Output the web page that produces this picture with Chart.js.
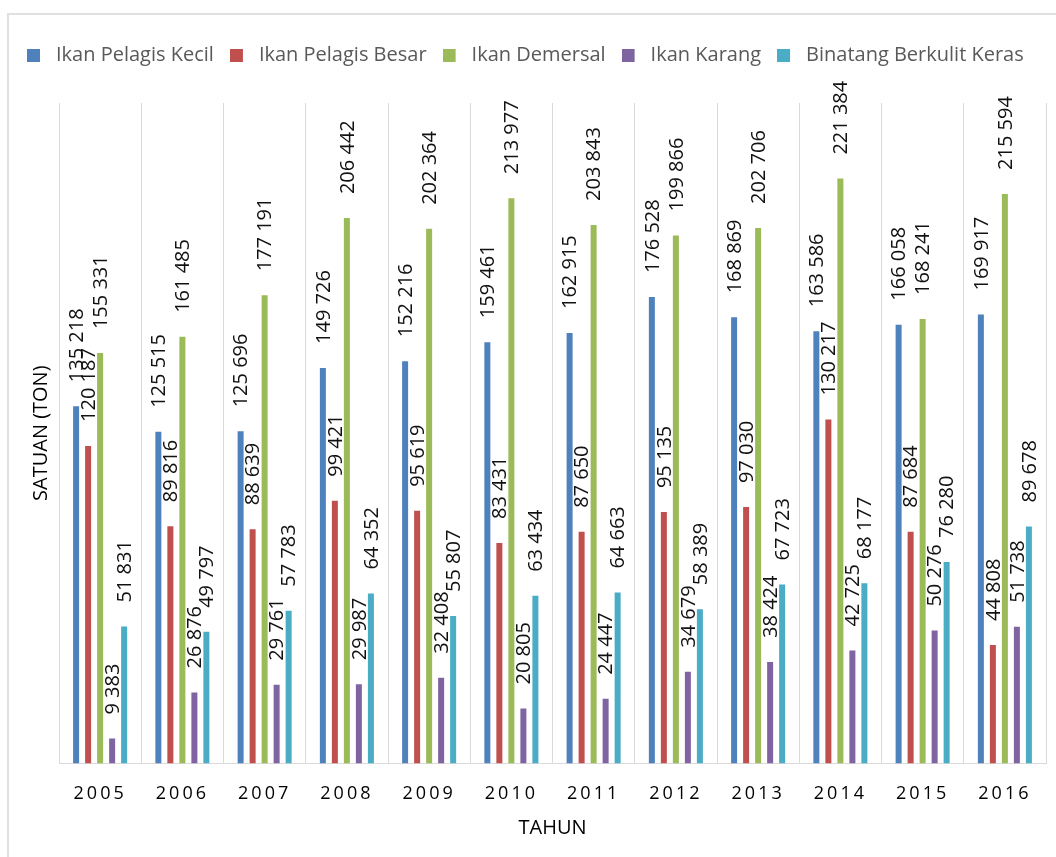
<!DOCTYPE html>
<html>
<head>
<meta charset="utf-8">
<script src="https://cdn.jsdelivr.net/npm/chart.js@4/dist/chart.umd.min.js"></script>
<style>
  html, body { margin: 0; padding: 0; background: #fff; overflow: hidden; }
  #frame { position: absolute; left: 7px; top: 13px; width: 1200px; height: 900px; border: 2px solid #e0e0e0; }
  #box { position: absolute; left: 0; top: 0; width: 1100px; height: 843px; }
</style>
</head>
<body>
<div id="frame"><div id="box"><canvas id="myChart"></canvas></div></div>
<script>
// produksi per tahun (ton)
const tahun = ['2005', '2006', '2007', '2008', '2009', '2010', '2011', '2012', '2013', '2014', '2015', '2016'];
const pelagisKecil = [135218, 125515, 125696, 149726, 152216, 159461, 162915, 176528, 168869, 163586, 166058, 169917];
const pelagisBesar = [120187, 89816, 88639, 99421, 95619, 83431, 87650, 95135, 97030, 130217, 87684, 44808];
const demersal = [155331, 161485, 177191, 206442, 202364, 213977, 203843, 199866, 202706, 221384, 168241, 215594];
const karang = [9383, 26876, 29761, 29987, 32408, 20805, 24447, 34679, 38424, 42725, 50276, 51738];
const berkulitKeras = [51831, 49797, 57783, 64352, 55807, 63434, 64663, 58389, 67723, 68177, 76280, 89678];
const yMax = 250000;

const FONT = '"Open Sans", "Noto Sans", sans-serif';

function formatTon(v) {
    return String(v).replace(/\B(?=(\d{3})+(?!\d))/g, ' ');
}

// small square for the legend, drawn on the left of a wider canvas so the text sits further away
function legendSquare(color) {
    let c = document.createElement('canvas');
    c.width = 19;
    c.height = 13;
    let g = c.getContext('2d');
    g.fillStyle = color;
    g.fillRect(0, 0, 13, 13);
    return c;
}

// value labels, rotated, above each bar
const barLabels = {
    id: 'barLabels',
    afterDatasetsDraw(chart) {
        const ctx = chart.ctx;
        ctx.save();
        ctx.font = '20px ' + FONT;
        ctx.fillStyle = '#111';
        ctx.textAlign = 'left';
        ctx.textBaseline = 'middle';
        chart.data.datasets.forEach((ds, i) => {
            chart.getDatasetMeta(i).data.forEach((bar, j) => {
                ctx.save();
                ctx.translate(bar.x, bar.y - 24);
                ctx.rotate(-Math.PI / 2);
                ctx.fillText(formatTon(ds.data[j]), 0, 1);
                ctx.restore();
            });
        });
        ctx.restore();
    }
};

// legend on one row running past the plot (it is cut at the page edge),
// some room under it, and year labels a bit spaced out
const tweaks = {
    id: 'tweaks',
    beforeLayout(chart) {
        const legend = chart.legend;
        if (legend && !legend._patched) {
            const fit = legend.fit;
            legend.fit = function () {
                this.maxWidth = 3000;
                fit.call(this);
                this.height += 28;
            };
            legend._patched = true;
        }
    },
    beforeDraw(chart) {
        const legend = chart.legend;
        if (legend) {
            legend.left = 2;
            legend.right = 3000;
        }
        const xs = chart.scales.x;
        if (xs && !xs._patched) {
            const drawLabels = xs.drawLabels;
            xs.drawLabels = function (area) {
                this.ctx.save();
                this.ctx.letterSpacing = '3px';
                drawLabels.call(this, area);
                this.ctx.restore();
            };
            xs._patched = true;
        }
    }
};

const colors = ['#4F81BD', '#C0504D', '#9BBB59', '#8064A2', '#4BACC6'];

let ctx = document.getElementById('myChart').getContext('2d');
const data = {
    labels: tahun,
    datasets: [
        { label: 'Ikan Pelagis Kecil', data: pelagisKecil, backgroundColor: colors[0] },
        { label: 'Ikan Pelagis Besar', data: pelagisBesar, backgroundColor: colors[1] },
        { label: 'Ikan Demersal', data: demersal, backgroundColor: colors[2] },
        { label: 'Ikan Karang', data: karang, backgroundColor: colors[3] },
        { label: 'Binatang Berkulit Keras', data: berkulitKeras, backgroundColor: colors[4] }
    ]
};
const config = {
    type: 'bar',
    data: data,
    plugins: [barLabels, tweaks],
    options: {
        responsive: true,
        maintainAspectRatio: false,
        animation: false,
        categoryPercentage: 0.73,
        barPercentage: 0.5,
        layout: { padding: { top: 14, left: 20, right: 63, bottom: 14 } },
        plugins: {
            tooltip: { enabled: false },
            legend: {
                position: 'top',
                align: 'start',
                labels: {
                    usePointStyle: true,
                    pointStyleWidth: 19,
                    padding: 16,
                    color: '#595959',
                    font: { family: FONT, size: 20 },
                    generateLabels: (chart) => {
                        let items = Chart.defaults.plugins.legend.labels.generateLabels(chart);
                        items.forEach((it, i) => { it.pointStyle = legendSquare(colors[i]); });
                        return items;
                    }
                }
            }
        },
        scales: {
            x: {
                grid: { display: true, offset: true, color: '#d9d9d9', drawTicks: false },
                border: { display: true, color: '#d9d9d9' },
                ticks: { color: '#000', padding: 20, font: { family: FONT, size: 18 } },
                title: {
                    display: true,
                    text: 'TAHUN',
                    color: '#000',
                    font: { family: FONT, size: 20 },
                    padding: { top: -9, bottom: 4 }
                }
            },
            y: {
                min: 0,
                max: yMax,
                grid: { display: false, drawTicks: false },
                border: { display: false },
                ticks: { display: false },
                title: {
                    display: true,
                    text: 'SATUAN (TON)',
                    color: '#000',
                    font: { family: FONT, size: 20 },
                    padding: { top: 0, bottom: 6 }
                }
            }
        }
    }
};
let myChart = new Chart(ctx, config);
</script>
</body>
</html>
